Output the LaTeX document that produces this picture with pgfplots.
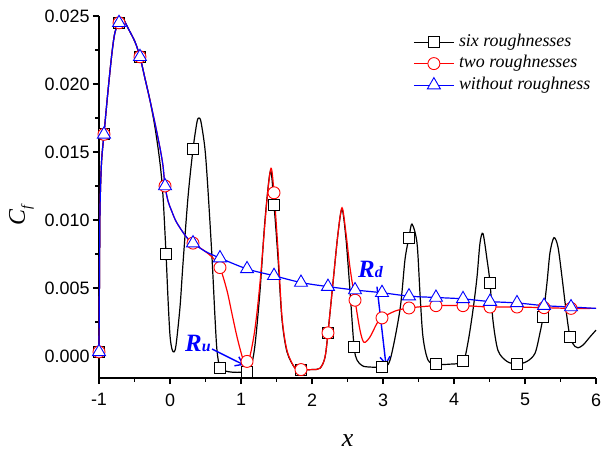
\documentclass[border=0pt]{standalone}
\usepackage{fontspec}
\setmainfont{Liberation Sans}
\newfontfamily\tnr{Liberation Serif}
\usepackage{pgfplots}
\pgfplotsset{compat=1.18}
\usetikzlibrary{arrows.meta}
\definecolor{cblue}{RGB}{0,0,255}
\definecolor{cred}{RGB}{255,0,0}
\begin{document}
\begin{tikzpicture}
\begin{axis}[
  scale only axis, width=497bp, height=362bp,
  xmin=-1, xmax=6, ymin=-0.00162, ymax=0.025,
  axis lines=left, axis line style={-, line width=1.2bp},
  clip=false,
  xtick={-1,0,1,2,3,4,5,6}, minor x tick num=1,
  ytick={0,0.005,0.010,0.015,0.020,0.025}, minor y tick num=1,
  tick align=outside,
  major tick length=6bp, minor tick length=3.5bp,
  every tick/.style={line width=1.1bp, black},
  scaled y ticks=false,
  yticklabel style={/pgf/number format/fixed, /pgf/number format/fixed zerofill, /pgf/number format/precision=3},
  xticklabel style={yshift=-6bp},
  /pgf/number format/assume math mode=true,
  ticklabel style={font=\fontsize{18}{18}\selectfont},
  xlabel={\tnr\itshape x},
  ylabel={\tnr\itshape C\raisebox{-0.25em}{\fontsize{14}{14}\selectfont f}},
  xlabel style={at={(axis description cs:0.5,-0.190)}, anchor=base, font=\fontsize{26}{26}\selectfont},
  ylabel style={at={(axis description cs:-0.149,0.45)}, anchor=base, font=\fontsize{24}{24}\selectfont},
  legend style={draw=none, fill=none, at={(0.632,0.954)}, anchor=north west, inner sep=0pt,
    row sep=3bp, column sep=3bp,
    font=\tnr\itshape\fontsize{18}{20}\selectfont,
    nodes={inner sep=1.5bp, text height=12bp, text depth=3.5bp}},
  legend cell align=left,
  legend image code/.code={\draw[mark repeat=2,mark phase=2] plot coordinates {(0bp,0bp) (20bp,0bp) (40bp,0bp)};},
]
\addlegendimage{black, line width=1.2bp, mark=square*, mark size=5.5bp, mark options={fill=white, line width=0.9bp}}
\addlegendentry{six roughnesses}
\addlegendimage{cred, line width=1.2bp, mark=*, mark size=6bp, mark options={fill=white, line width=0.9bp}}
\addlegendentry{two roughnesses}
\addlegendimage{cblue, line width=1.2bp, mark=triangle*, mark size=7.5bp, mark options={fill=white, line width=0.9bp}}
\addlegendentry{without roughness}

% six roughnesses
\addplot[black, line width=1.2bp, smooth, tension=0.5, forget plot] coordinates {
(-1.000,0.0003) (-0.993,0.0060) (-0.986,0.0108) (-0.965,0.0142) (-0.930,0.0163) (-0.873,0.0195) (-0.817,0.0223) (-0.775,0.0238) (-0.718,0.0245) (-0.690,0.0247) (-0.650,0.0247) (-0.590,0.0241) (-0.493,0.0231) (-0.423,0.0220) (-0.352,0.0204) (-0.282,0.0188)
(-0.211,0.0168) (-0.141,0.0142) (-0.099,0.0118) (-0.056,0.0075) (-0.028,0.0042) (0.000,0.0015) (0.028,0.0005) (0.056,0.0003) (0.085,0.0008) (0.141,0.0036) (0.183,0.0068) (0.254,0.0117) (0.324,0.0152) (0.380,0.0172) (0.408,0.0175) (0.437,0.0172) (0.493,0.0152) (0.535,0.0122) (0.592,0.0072) (0.634,0.0028) (0.662,0.0004) (0.704,-0.0009) (0.775,-0.0011) (0.887,-0.0012) (1.000,-0.0012) (1.085,-0.0012) (1.141,-0.0008) (1.197,0.0008) (1.268,0.0048) (1.338,0.0100) (1.415,0.0136) (1.465,0.0111) (1.521,0.0072) (1.577,0.0027) (1.648,0.0003) (1.761,-0.0009) (1.845,-0.0010) (2.000,-0.0010) (2.113,-0.0009) (2.183,-0.0001) (2.225,0.0017) (2.296,0.0054) (2.366,0.0090) (2.423,0.0108) (2.479,0.0086) (2.535,0.0048) (2.592,0.0007) (2.634,-0.0003) (2.704,-0.0007) (2.775,-0.0008) (2.986,-0.0008) (3.099,-0.0003) (3.239,0.0034) (3.310,0.0071) (3.366,0.0087) (3.408,0.0097) (3.479,0.0083) (3.521,0.0046) (3.563,0.0014) (3.634,-0.0003) (3.746,-0.0006) (3.950,-0.0006) (4.127,-0.0004) (4.197,0.0010) (4.268,0.0034) (4.324,0.0058) (4.366,0.0083) (4.408,0.0090) (4.465,0.0071) (4.507,0.0054) (4.549,0.0026) (4.620,0.0004) (4.746,-0.0004) (4.887,-0.0006) (5.028,-0.0004) (5.141,0.0002) (5.211,0.0017) (5.254,0.0029) (5.310,0.0054) (5.352,0.0076) (5.408,0.0087) (5.465,0.0080) (5.521,0.0058) (5.577,0.0034) (5.634,0.0014) (5.704,0.0007) (5.746,0.0006) (5.817,0.0008) (5.915,0.0014) (6.000,0.0019)
};
\addplot[only marks, black, mark=square*, mark size=5.5bp, mark options={fill=white, line width=0.9bp}, forget plot] coordinates {
(-1.000,0.0003) (-0.930,0.0163) (-0.718,0.0245) (-0.423,0.0220) (-0.056,0.0075) (0.324,0.0152) (0.704,-0.0009) (1.085,-0.0012) (1.465,0.0111) (1.845,-0.0010) (2.225,0.0017) (2.592,0.0007) (2.986,-0.0008) (3.366,0.0087) (3.746,-0.0006) (4.127,-0.0004) (4.507,0.0054) (4.887,-0.0006) (5.254,0.0029) (5.634,0.0014)
};

% two roughnesses
\addplot[cred, line width=1.2bp, smooth, tension=0.5, forget plot] coordinates {
(-1.000,0.0003) (-0.993,0.0060) (-0.986,0.0108) (-0.965,0.0142) (-0.930,0.0163) (-0.873,0.0195) (-0.817,0.0223) (-0.775,0.0238) (-0.718,0.0245) (-0.690,0.0247) (-0.650,0.0247) (-0.590,0.0241) (-0.493,0.0231) (-0.423,0.0220) (-0.352,0.0204) (-0.282,0.0188) (-0.211,0.0171) (-0.141,0.0153) (-0.099,0.0140) (-0.070,0.0125) (-0.028,0.0114) (0.028,0.0106) (0.085,0.0099) (0.169,0.0092) (0.254,0.0086) (0.324,0.0083)
(0.493,0.0077) (0.606,0.0072) (0.704,0.0065) (0.803,0.0048) (0.873,0.0031) (0.944,0.0014) (1.014,0.0000) (1.050,-0.0005) (1.085,-0.0004) (1.127,0.0000) (1.197,0.0020) (1.268,0.0054) (1.366,0.0115) (1.423,0.0138) (1.465,0.0120) (1.521,0.0078) (1.577,0.0029) (1.648,0.0004) (1.761,-0.0009) (1.845,-0.0010) (2.000,-0.0010) (2.113,-0.0009) (2.183,-0.0001) (2.225,0.0017) (2.296,0.0054) (2.366,0.0090) (2.423,0.0109) (2.479,0.0090) (2.535,0.0065) (2.606,0.0041) (2.676,0.0019) (2.732,0.0010) (2.817,0.0014) (2.915,0.0024) (2.986,0.0028) (3.169,0.0033) (3.366,0.00353) (3.746,0.0037) (4.127,0.0037) (4.507,0.0036) (4.887,0.0036) (5.268,0.00355) (5.648,0.0035) (6.000,0.0035)
};
\addplot[only marks, cred, mark=*, mark size=6bp, mark options={fill=white, line width=0.9bp}, forget plot] coordinates {
(-1.000,0.0003) (-0.930,0.0163) (-0.718,0.0245) (-0.423,0.0220) (-0.070,0.0125) (0.324,0.0083) (0.704,0.0065) (1.085,-0.0004) (1.465,0.0120) (1.845,-0.0010) (2.225,0.0017) (2.606,0.0041) (2.986,0.0028) (3.366,0.00353) (3.746,0.0037) (4.127,0.0037) (4.507,0.0036) (4.887,0.0036) (5.268,0.00355) (5.648,0.0035)
};

% without roughness
\addplot[cblue, line width=1.2bp, smooth, tension=0.5, forget plot] coordinates {
(-1.000,0.0003) (-0.993,0.0060) (-0.986,0.0108) (-0.965,0.0142) (-0.930,0.0163) (-0.873,0.0195) (-0.817,0.0223) (-0.775,0.0238) (-0.718,0.0245) (-0.690,0.0247) (-0.650,0.0247) (-0.590,0.0241) (-0.493,0.0231) (-0.423,0.0220) (-0.352,0.0204) (-0.282,0.0188) (-0.211,0.0171) (-0.141,0.0153) (-0.099,0.0140) (-0.070,0.0125) (-0.028,0.0114) (0.028,0.0106) (0.085,0.0099) (0.169,0.0092) (0.254,0.0086) (0.324,0.0083) (0.493,0.0077) (0.704,0.0072) (1.085,0.0064) (1.465,0.0059) (1.845,0.0054) (2.225,0.0051) (2.606,0.00485) (2.986,0.00465) (3.366,0.0044) (3.746,0.0043) (4.127,0.0042) (4.507,0.0040) (4.887,0.0039) (5.268,0.0037) (5.648,0.0036) (6.000,0.0035)
};
\addplot[only marks, cblue, mark=triangle*, mark size=7.5bp, mark options={fill=white, line width=0.9bp}, forget plot] coordinates {
(-1.000,0.0003) (-0.930,0.0163) (-0.718,0.0245) (-0.423,0.0220) (-0.070,0.0125) (0.324,0.0083) (0.704,0.0072) (1.085,0.0064) (1.465,0.0059) (1.845,0.0054) (2.225,0.0051) (2.606,0.00485) (2.986,0.00465) (3.366,0.0044) (3.746,0.0043) (4.127,0.0042) (4.507,0.0040) (4.887,0.0039) (5.268,0.0037) (5.648,0.0036)
};

% annotations
\node[anchor=base west, text=cblue, inner sep=0pt, font=\tnr\bfseries\itshape\fontsize{25}{25}\selectfont] at (axis cs:0.211,0.0003) {R{\fontsize{16}{16}\selectfont u}};
\node[anchor=base west, text=cblue, inner sep=0pt, font=\tnr\bfseries\itshape\fontsize{25}{25}\selectfont] at (axis cs:2.648,0.00574) {R{\fontsize{16}{16}\selectfont d}};
\draw[cblue, line width=1.4bp, -{Straight Barb[length=7bp, width=10bp]}] (axis cs:0.592,0.00051) -- (axis cs:1.042,-0.00066);
\draw[cblue, line width=1.4bp, -{Straight Barb[length=7bp, width=10bp]}] (axis cs:2.915,0.0051) -- (axis cs:3.042,-0.00066);
\end{axis}
\pgfresetboundingbox
\path[use as bounding box] ([shift={(-99bp,-74bp)}]current axis.south west) rectangle ++(601bp,452bp);
\end{tikzpicture}
\end{document}
